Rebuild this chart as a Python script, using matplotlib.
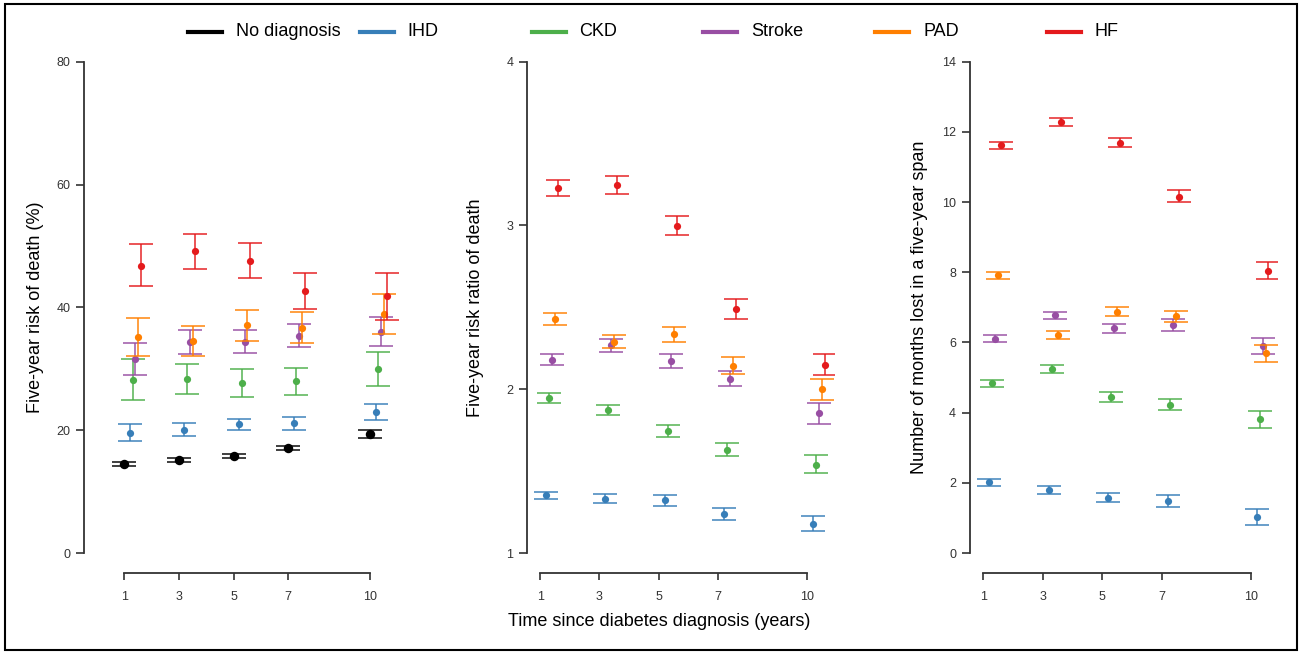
import numpy as np
import matplotlib.pyplot as plt
from matplotlib.lines import Line2D
from matplotlib.patches import Rectangle

plt.rcParams['font.family'] = ['Liberation Sans', 'DejaVu Sans']

years = [1, 3, 5, 7, 10]
groups = ['No diagnosis', 'IHD', 'CKD', 'Stroke', 'PAD', 'HF']
colors = ['#000000', '#377EB8', '#4DAF4A', '#984EA3', '#FF7F00', '#E41A1C']
shift = [0, 0.2, 0.3, 0.4, 0.5, 0.6]

# panel 1: five-year risk of death (%), rows follow groups
risk_mid = [[14.5, 15.1, 15.85, 17.05, 19.4],
            [19.6, 20.1, 20.95, 21.2, 22.95],
            [28.2, 28.3, 27.7, 27.95, 29.96],
            [31.6, 34.3, 34.4, 35.4, 36.0],
            [35.2, 34.6, 37.1, 36.7, 38.9],
            [46.8, 49.1, 47.6, 42.7, 41.8]]
risk_lo = [[14.2, 14.8, 15.5, 16.7, 18.8],
           [18.2, 19.05, 20.0, 20.1, 21.6],
           [24.9, 25.9, 25.4, 25.7, 27.2],
           [29.0, 32.35, 32.6, 33.5, 33.65],
           [32.1, 32.1, 34.6, 34.2, 35.6],
           [43.5, 46.3, 44.7, 39.8, 37.9]]
risk_hi = [[14.8, 15.4, 16.2, 17.5, 20.0],
           [20.95, 21.2, 21.9, 22.2, 24.3],
           [31.6, 30.8, 29.9, 30.2, 32.7],
           [34.25, 36.3, 36.3, 37.3, 38.5],
           [38.3, 37.0, 39.5, 39.25, 42.1],
           [50.3, 52.0, 50.4, 45.6, 45.6]]

# panel 2: five-year risk ratio of death (IHD..HF)
ratio_mid = [[1.352, 1.33, 1.324, 1.238, 1.18],
             [1.948, 1.873, 1.743, 1.63, 1.54],
             [2.18, 2.27, 2.17, 2.064, 1.853],
             [2.43, 2.29, 2.335, 2.14, 2.0],
             [3.23, 3.247, 2.995, 2.488, 2.148]]
ratio_lo = [[1.33, 1.305, 1.29, 1.2, 1.136],
            [1.918, 1.84, 1.708, 1.59, 1.488],
            [2.148, 2.23, 2.13, 2.02, 1.79],
            [2.39, 2.25, 2.29, 2.095, 1.936],
            [3.18, 3.19, 2.94, 2.43, 2.085]]
ratio_hi = [[1.374, 1.36, 1.354, 1.273, 1.224],
            [1.98, 1.905, 1.78, 1.67, 1.596],
            [2.215, 2.305, 2.215, 2.11, 1.916],
            [2.467, 2.33, 2.38, 2.195, 2.064],
            [3.28, 3.30, 3.056, 2.55, 2.215]]

# panel 3: months lost in a five-year span (IHD..HF)
months_mid = [[2.01, 1.80, 1.58, 1.48, 1.03],
              [4.84, 5.24, 4.45, 4.23, 3.81],
              [6.1, 6.77, 6.4, 6.5, 5.9],
              [7.92, 6.21, 6.88, 6.75, 5.69],
              [11.62, 12.27, 11.68, 10.15, 8.04]]
months_lo = [[1.91, 1.69, 1.44, 1.32, 0.79],
             [4.74, 5.12, 4.30, 4.08, 3.56],
             [6.01, 6.66, 6.26, 6.34, 5.66],
             [7.82, 6.11, 6.75, 6.58, 5.45],
             [11.52, 12.16, 11.56, 10.0, 7.8]]
months_hi = [[2.11, 1.92, 1.70, 1.64, 1.26],
             [4.93, 5.35, 4.58, 4.39, 4.05],
             [6.21, 6.88, 6.53, 6.66, 6.14],
             [8.02, 6.33, 7.01, 6.9, 5.92],
             [11.70, 12.39, 11.82, 10.33, 8.28]]

W, H = 1302, 654
fig = plt.figure(figsize=(W / 100, H / 100), dpi=100)


def px_axes(left, width, top=61.7, bottom=553):
    return fig.add_axes([left / W, (H - bottom) / H, width / W, (bottom - top) / H])


def draw_panel(ax, mids, los, his, idx, ylim, yticks, xlim, ylabel, label_x):
    x = np.array(years, dtype=float)
    for row, g in enumerate(idx):
        mid = np.array(mids[row])
        lo = np.array(los[row])
        hi = np.array(his[row])
        c = colors[g]
        ax.errorbar(x + shift[g], mid, yerr=[mid - lo, hi - mid], fmt='none',
                    ecolor=c, elinewidth=1.4, capsize=8.3, capthick=1.4, alpha=0.75)
        ms = 6.8 if g == 0 else 5.2
        ax.plot(x + shift[g], mid, 'o', color=c, ms=ms, mec='none')
    ax.set_xlim(*xlim)
    ax.set_ylim(*ylim)
    ax.set_yticks(yticks)
    ax.set_xticks(years)
    for s in ['top', 'right']:
        ax.spines[s].set_visible(False)
    ax.spines['bottom'].set_position(('outward', 14.6))
    ax.spines['bottom'].set_bounds(1, 10)
    ax.spines['left'].set_bounds(*ylim)
    for s in ['left', 'bottom']:
        ax.spines[s].set_color('#333333')
        ax.spines[s].set_linewidth(1.3)
    ax.tick_params(axis='y', length=5.5, width=1.2, color='#333333',
                   labelcolor='#333333', labelsize=9, pad=4.5)
    ax.tick_params(axis='x', length=5, width=1.2, color='#333333',
                   labelcolor='#333333', labelsize=9, pad=8)
    ax.set_ylabel(ylabel, fontsize=13, va='center')
    ax.yaxis.set_label_coords(label_x, 0.5)
    ax.patch.set_visible(False)


ax1 = px_axes(84.3, 318.6)
draw_panel(ax1, risk_mid, risk_lo, risk_hi, [0, 1, 2, 3, 4, 5], (0, 80),
           [0, 20, 40, 60, 80], (-0.47, 11.2), 'Five-year risk of death (%)', -48.8 / 318.6)

ax2 = px_axes(527.3, 306.8)
draw_panel(ax2, ratio_mid, ratio_lo, ratio_hi, [1, 2, 3, 4, 5], (1, 4),
           [1, 2, 3, 4], (0.57, 10.9), 'Five-year risk ratio of death', -51.3 / 306.8)

ax3 = px_axes(970, 307.4)
draw_panel(ax3, months_mid, months_lo, months_hi, [1, 2, 3, 4, 5], (0, 14),
           [0, 2, 4, 6, 8, 10, 12, 14], (0.55, 10.9),
           'Number of months lost in a five-year span', -51 / 307.4)

fig.text(659 / W, 1 - 622 / H, 'Time since diabetes diagnosis (years)',
         ha='center', va='center', fontsize=13)

# legend across the top
for i, (g, c) in enumerate(zip(groups, colors)):
    x0 = 188 + i * 171.8
    fig.add_artist(Line2D([x0 / W, (x0 + 34) / W], [1 - 32 / H] * 2, color=c, lw=3))
    fig.text((x0 + 48) / W, 1 - 32 / H, g, ha='left', va='center', fontsize=13)

# outer frame
fig.add_artist(Rectangle((5 / W, 4 / H), 1292 / W, 646 / H, transform=fig.transFigure,
                         fill=False, lw=1.5, ec='black'))

fig.savefig('out.png', dpi=100)
